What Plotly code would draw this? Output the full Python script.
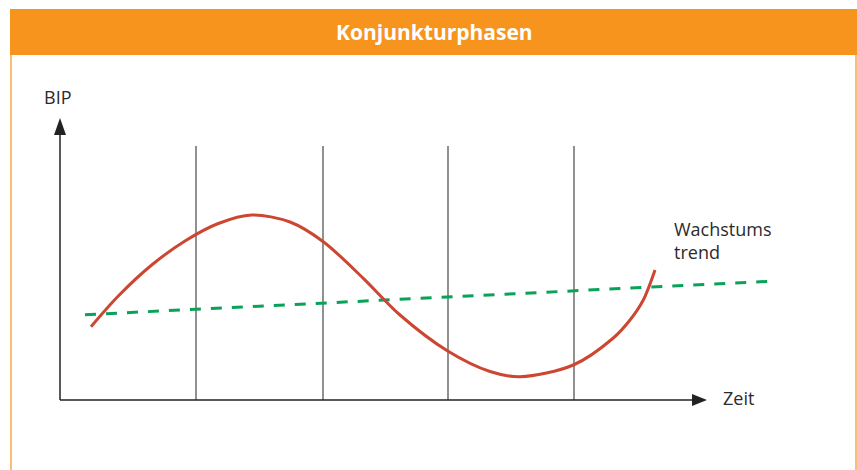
import plotly.graph_objects as go

# business cycle curve (Zeit, BIP)
zeit = [31, 58.3, 91.7, 125, 158.3, 191.7, 230, 263.3, 303.3, 340,
        387.7, 430, 460, 513.3, 553.3, 570, 583.3, 595]
bip = [73.3, 104, 135, 159, 176.5, 185, 178, 158.3, 121.7, 85,
       49, 28.5, 23.3, 35, 62, 80, 100, 130]

# growth trend (straight dashed line)
trend_zeit = [25, 715]
trend_bip = [85.3, 119]

# phase boundaries
phasen = [136, 263, 388, 514]
phasen_top = 254

x_end = 647   # tip of Zeit arrow
y_end = 282   # tip of BIP arrow

W, H = 857, 470
ORANGE = "#f7941d"
FONT = "Open Sans, Noto Sans, sans-serif"

fig = go.Figure()

for p in phasen:
    fig.add_trace(go.Scatter(x=[p, p], y=[0, phasen_top], mode="lines",
                             line=dict(color="#555555", width=1.3),
                             hoverinfo="skip", showlegend=False))

fig.add_trace(go.Scatter(x=trend_zeit, y=trend_bip, mode="lines",
                         line=dict(color="#0aa159", width=3, dash="11px,10px"),
                         showlegend=False))

fig.add_trace(go.Scatter(x=zeit, y=bip, mode="lines",
                         line=dict(color="#cc4632", width=3, shape="spline", smoothing=0.9),
                         showlegend=False))

shapes = [
    # header bar and frame
    dict(type="rect", xref="paper", yref="paper", x0=10 / W, x1=1.0,
         y0=1 - 55 / H, y1=1 - 9 / H, fillcolor=ORANGE, line=dict(width=0), layer="below"),
    dict(type="line", xref="paper", yref="paper", x0=11 / W, x1=11 / W,
         y0=0, y1=1 - 55 / H, line=dict(color="#f8a848", width=1.5)),
    dict(type="line", xref="paper", yref="paper", x0=856 / W, x1=856 / W,
         y0=0, y1=1 - 55 / H, line=dict(color="#f8a848", width=1.5)),
    # axes
    dict(type="line", x0=0, x1=x_end - 10, y0=0, y1=0, line=dict(color="#222222", width=1.5)),
    dict(type="line", x0=0, x1=0, y0=0, y1=y_end - 10, line=dict(color="#222222", width=1.5)),
    # arrow heads
    dict(type="path", path=f"M {x_end-15},-6 L {x_end},0 L {x_end-15},6 Z",
         fillcolor="#222222", line=dict(width=0)),
    dict(type="path", path=f"M -6,{y_end-17} L 0,{y_end} L 6,{y_end-17} Z",
         fillcolor="#222222", line=dict(width=0)),
]

txt = dict(family=FONT, size=18, color="#2b2b2b")
annotations = [
    dict(text="<b>Konjunkturphasen</b>", xref="paper", yref="paper",
         x=434 / W, y=1 - 32 / H, xanchor="center", yanchor="middle", showarrow=False,
         font=dict(family=FONT, size=21, color="white")),
    dict(text="BIP", x=-3, y=303, xanchor="center", yanchor="middle",
         showarrow=False, font=txt),
    dict(text="Zeit", x=661, y=2, xanchor="left", yanchor="middle",
         showarrow=False, font=txt),
    dict(text="Wachstums<br>trend", x=612, y=160, xanchor="left", yanchor="middle",
         align="left", showarrow=False, font=txt),
]

fig.update_layout(
    width=W, height=H,
    margin=dict(l=0, r=0, t=0, b=0),
    paper_bgcolor="white", plot_bgcolor="white",
    xaxis=dict(range=[-60, 797], visible=False, fixedrange=True),
    yaxis=dict(range=[-70, 400], visible=False, fixedrange=True),
    shapes=shapes, annotations=annotations,
)

fig.write_html("out.html", config={"displayModeBar": False},
               post_script="document.body.style.margin='0';document.body.style.overflow='hidden';")
